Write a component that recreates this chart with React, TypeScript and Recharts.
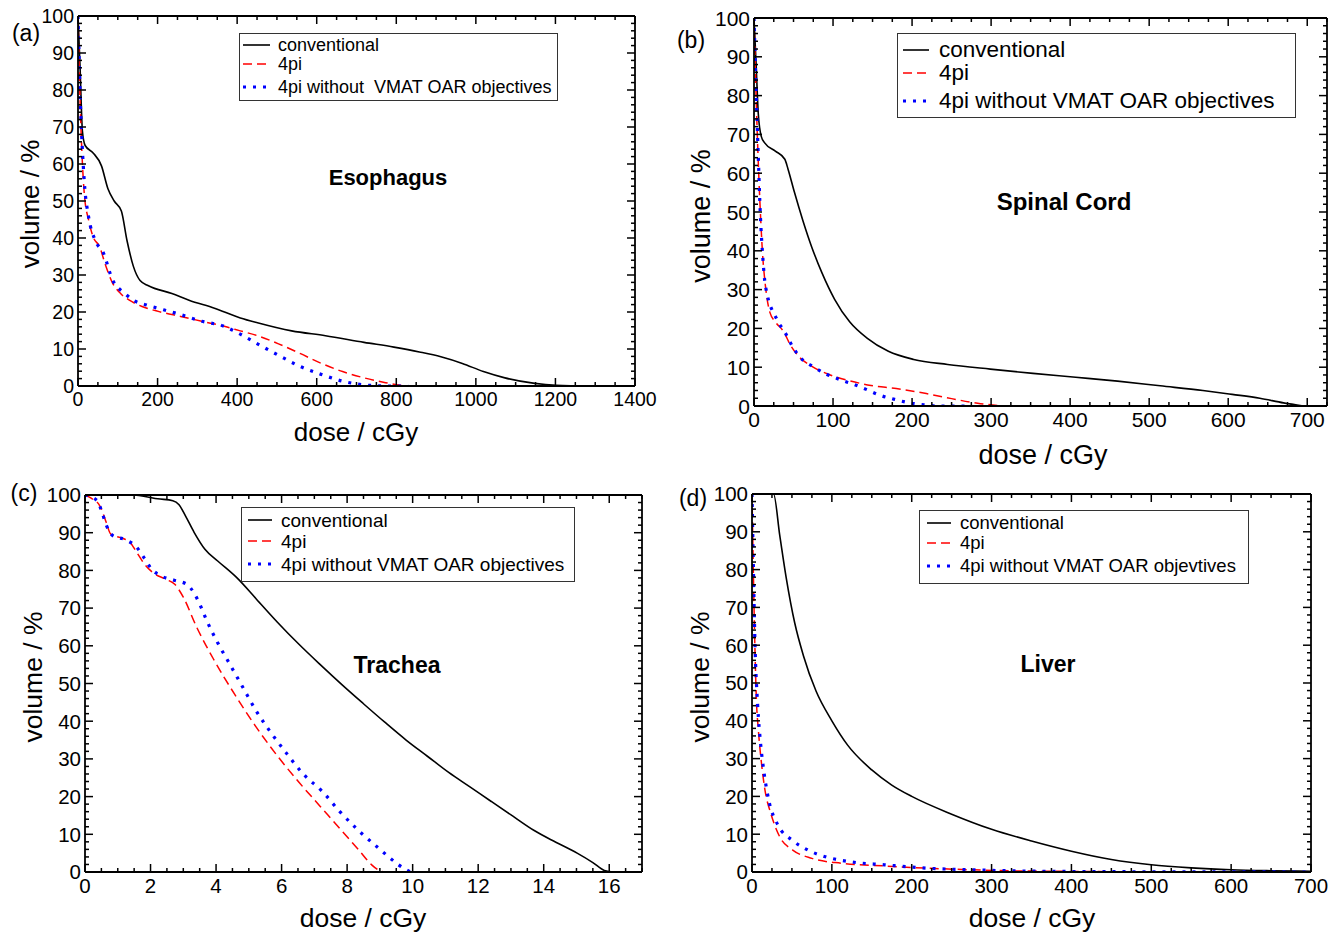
import React from 'react';
import { LineChart, Line, XAxis, YAxis } from 'recharts';

type Pt = [number, number];

// (a) Esophagus  [dose cGy, volume %]
const esoConventional: Pt[] = [
  [0, 100], [5, 86.7], [11, 69], [18, 65], [38, 63], [59, 59.5], [75, 53.4], [91, 50], [109, 47.3],
  [123, 39.4], [139, 32.4], [156, 28.5], [177, 27.1], [236, 25], [279, 23.2], [343, 21], [408, 18.4],
  [451, 17.1], [537, 14.9], [622, 13.6], [719, 11.8], [794, 10.5], [858, 9.2], [912, 7.9], [966, 6.1],
  [1019, 3.9], [1073, 2.2], [1148, 0.7], [1202, 0.2], [1288, 0],
];
const eso4pi: Pt[] = [
  [0, 100], [5, 78], [11, 60.4], [16, 51.7], [27, 44.7], [38, 40.3], [54, 37.7], [70, 32.4], [86, 28],
  [107, 25], [129, 23.2], [161, 21.5], [204, 20.1], [258, 18.8], [311, 17.5], [365, 16.2], [408, 14.9],
  [451, 13.6], [504, 11.4], [558, 8.8], [612, 6.1], [665, 3.9], [719, 2.2], [773, 0.9], [810, 0.2], [830, 0],
];
const eso4piNoOar: Pt[] = [
  [0, 100], [5, 80], [16, 55], [27, 45.5], [43, 39.4], [64, 35.9], [86, 28.9], [118, 25], [139, 23.2],
  [172, 21.9], [215, 20.6], [258, 19.3], [311, 17.5], [365, 16.2], [408, 14], [451, 11.4], [504, 8.3],
  [558, 5.3], [612, 3.1], [665, 1.3], [730, 0.2], [780, 0], [830, 0],
];

// (b) Spinal Cord
const cordConventional: Pt[] = [
  [0, 100], [2.7, 88], [5.4, 75.4], [9.2, 69.5], [13.5, 67.8], [27, 65.7], [39, 63.6], [43, 61.1],
  [51, 55.2], [62, 47.7], [73, 41], [86, 34.3], [102, 27.5], [121, 21.7], [143, 17.5], [170, 14.1],
  [202, 12], [245, 10.7], [299, 9.5], [353, 8.4], [407, 7.4], [460, 6.4], [514, 5.2], [568, 4],
  [605, 3], [640, 2], [670, 0.8], [695, 0],
];
const cord4pi: Pt[] = [
  [0, 100], [2.7, 79.6], [5.4, 62.8], [8, 50.2], [10.8, 39.3], [14.5, 30.9], [20, 24.2], [27, 21.7],
  [37.7, 19.1], [45.8, 15.8], [56.5, 12.8], [72.7, 10.3], [94, 8.2], [121, 6.5], [148, 5.3], [180, 4.5],
  [218, 3.2], [250, 1.9], [283, 0.7], [315, 0],
];
const cord4piNoOar: Pt[] = [
  [0, 100], [2.7, 81], [5.4, 64.5], [8, 49.4], [10.8, 39.3], [14.5, 30.9], [29.6, 22.1], [40, 18.7],
  [48.5, 15.4], [59, 12.4], [75, 10.1], [92, 8.2], [110, 6.7], [127, 5.5], [143, 4.2], [159, 2.8],
  [178, 1.7], [197, 0.8], [215, 0.3], [234, 0], [272, 0],
];

// (c) Trachea
const tracheaConventional: Pt[] = [
  [0, 100], [1.44, 100], [1.83, 99.6], [2.22, 99], [2.68, 98.5], [2.87, 97.4], [3.07, 94.4], [3.33, 90.1],
  [3.66, 85.6], [4.05, 82.5], [4.64, 78], [5.22, 72.5], [5.88, 66.2], [6.53, 60.4], [7.18, 55], [7.84, 49.7],
  [8.49, 44.7], [9.14, 39.8], [9.8, 35], [10.45, 30.7], [11.1, 26.4], [11.76, 22.5], [12.4, 18.7],
  [13.06, 14.8], [13.71, 11], [14.37, 7.9], [15.02, 5], [15.5, 2.5], [15.85, 0.4], [16.1, 0],
];
const trachea4pi: Pt[] = [
  [0, 100], [0.2, 99.1], [0.46, 97], [0.65, 92.7], [0.78, 89.7], [1.18, 88.4], [1.37, 87.5], [1.57, 84.9],
  [1.83, 81.5], [2.09, 79.3], [2.48, 77.6], [2.74, 76.3], [3, 72.9], [3.4, 65.1], [3.92, 56.5],
  [4.57, 47.1], [5.22, 38.5], [5.88, 30.7], [6.53, 23.8], [7.18, 17.4], [7.84, 10.9], [8.36, 5.8],
  [8.75, 1.9], [9.0, 0.3], [9.14, 0],
];
const trachea4piNoOar: Pt[] = [
  [0, 100], [0.37, 98.5], [0.52, 95.4], [0.65, 92], [0.85, 89.2], [1.24, 88.1], [1.57, 86.2], [1.8, 83.4],
  [2.02, 80.5], [2.33, 78.5], [2.72, 77.4], [3.11, 76.3], [3.36, 73.5], [3.53, 70.5], [3.7, 67],
  [4.05, 60.8], [4.44, 54.8], [4.83, 48.8], [5.22, 42.8], [5.68, 36.9], [6.14, 31.6], [6.66, 26],
  [7.25, 21.3], [7.77, 16.1], [8.36, 10.9], [8.95, 6.4], [9.27, 4], [9.57, 1.9], [9.93, 0],
];

// (d) Liver
const liverConventional: Pt[] = [
  [0, 100], [27, 100], [34.8, 89], [42.8, 77.9], [53.6, 65.8], [64.3, 57.3], [80.3, 47.8], [100, 40],
  [120, 33.5], [150, 27], [175, 23], [200, 20], [250, 15.3], [300, 11.3], [350, 8.2], [400, 5.5],
  [450, 3.3], [500, 1.9], [550, 1.1], [600, 0.6], [650, 0.35], [700, 0.2],
];
const liver4pi: Pt[] = [
  [0, 100], [1.6, 80.4], [3.7, 59], [5.4, 46.1], [8, 37.5], [11.8, 28.9], [16, 22], [24, 15.2], [35, 9.2],
  [51, 5.8], [75, 3.6], [112, 2.3], [166, 1.6], [220, 1], [273, 0.6], [327, 0.3], [380, 0.2], [434, 0.1],
  [700, 0],
];
const liver4piNoOar: Pt[] = [
  [0, 100], [1.6, 82], [3.7, 60.7], [7, 44.4], [10.7, 34.1], [15, 26.4], [21.4, 18.6], [32, 12.6],
  [51, 8.3], [70, 5.8], [94, 3.9], [123, 2.7], [166, 1.9], [220, 1], [273, 0.6], [327, 0.3], [434, 0.1],
  [700, 0],
];

const volumeTicks = [0, 10, 20, 30, 40, 50, 60, 70, 80, 90, 100];
const esoDoseTicks = [0, 200, 400, 600, 800, 1000, 1200, 1400];
const cordDoseTicks = [0, 100, 200, 300, 400, 500, 600, 700];
const tracheaDoseTicks = [0, 2, 4, 6, 8, 10, 12, 14, 16];
const liverDoseTicks = [0, 100, 200, 300, 400, 500, 600, 700];

const legendA = ['conventional', '4pi', '4pi without  VMAT OAR objectives'];
const legendB = ['conventional', '4pi', '4pi without VMAT OAR objectives'];
const legendC = ['conventional', '4pi', '4pi without VMAT OAR objectives'];
const legendD = ['conventional', '4pi', '4pi without VMAT OAR objevtives'];

const FONT = '"Liberation Sans", Arial, Helvetica, sans-serif';

const toRows = (pts: Pt[]) => pts.map(([d, v]) => ({ d, v }));

const steps = (max: number, step: number) => {
  const out: number[] = [];
  for (let i = 0; i * step <= max + 1e-9; i++) out.push(+(i * step).toFixed(4));
  return out;
};

type Side = 'bottom' | 'left' | 'top' | 'right';

const tickMark = (side: Side, majors: number[], fontSize: number) => (props: any) => {
  const { x, y, payload } = props;
  const v = payload.value;
  const major = majors.some((m) => Math.abs(m - v) < 1e-6);
  const len = major ? 8 : 4;
  const st = { stroke: '#000', strokeWidth: 1.5 };
  if (side === 'bottom') {
    return (
      <g>
        <line x1={x} y1={y} x2={x} y2={y - len} {...st} />
        {major && (
          <text x={x} y={y + 6} dy='0.71em' textAnchor='middle' fontSize={fontSize} fontFamily={FONT} fill='#000'>
            {v}
          </text>
        )}
      </g>
    );
  }
  if (side === 'left') {
    return (
      <g>
        <line x1={x} y1={y} x2={x + len} y2={y} {...st} />
        {major && (
          <text x={x - 4} y={y} dy='0.36em' textAnchor='end' fontSize={fontSize} fontFamily={FONT} fill='#000'>
            {v}
          </text>
        )}
      </g>
    );
  }
  if (side === 'top') return <line x1={x} y1={y} x2={x} y2={y + len} {...st} />;
  return <line x1={x} y1={y} x2={x - len} y2={y} {...st} />;
};

interface PanelProps {
  L: number; T: number; R: number; B: number;
  xMax: number; xMajor: number[]; xMinor: number;
  tickFont: number;
  conv: Pt[]; pi: Pt[]; noOar: Pt[];
}

const Panel: React.FC<PanelProps> = ({ L, T, R, B, xMax, xMajor, xMinor, tickFont, conv, pi, noOar }) => {
  const xt = steps(xMax, xMinor);
  const yt = steps(100, 2);
  const axisLine = { stroke: '#000', strokeWidth: 1.8 };
  return (
    <div style={{ position: 'absolute', left: L - 60, top: T - 25 }}>
      <LineChart width={R - L + 90} height={B - T + 85} margin={{ top: 24, right: 29, left: 5, bottom: 10 }}>
        <XAxis xAxisId='b' dataKey='d' type='number' domain={[0, xMax]} ticks={xt} interval={0} allowDataOverflow
          orientation='bottom' height={60} tickSize={0} tickMargin={0} tickLine={false} axisLine={axisLine}
          tick={tickMark('bottom', xMajor, tickFont)} />
        <XAxis xAxisId='t' dataKey='d' type='number' domain={[0, xMax]} ticks={xt} interval={0} allowDataOverflow
          orientation='top' height={1} tickSize={0} tickMargin={0} tickLine={false} axisLine={axisLine}
          tick={tickMark('top', xMajor, tickFont)} />
        <YAxis yAxisId='l' type='number' domain={[0, 100]} ticks={yt} interval={0} allowDataOverflow
          orientation='left' width={55} tickSize={0} tickMargin={0} tickLine={false} axisLine={axisLine}
          tick={tickMark('left', volumeTicks, tickFont)} />
        <YAxis yAxisId='r' type='number' domain={[0, 100]} ticks={yt} interval={0} allowDataOverflow
          orientation='right' width={1} tickSize={0} tickMargin={0} tickLine={false} axisLine={axisLine}
          tick={tickMark('right', volumeTicks, tickFont)} />
        <Line xAxisId='b' yAxisId='l' data={toRows(conv)} dataKey='v' type='monotone' stroke='#000'
          strokeWidth={1.6} dot={false} isAnimationActive={false} />
        <Line xAxisId='b' yAxisId='l' data={toRows(pi)} dataKey='v' type='monotone' stroke='#ff0000'
          strokeWidth={1.5} strokeDasharray='9 5' dot={false} isAnimationActive={false} />
        <Line xAxisId='b' yAxisId='l' data={toRows(noOar)} dataKey='v' type='monotone' stroke='#0000ff'
          strokeWidth={3.2} strokeDasharray='3 7' dot={false} isAnimationActive={false} />
      </LineChart>
    </div>
  );
};

interface LegendProps {
  left: number; top: number; width: number; height: number;
  fontSize: number; rows: number[]; lineX: [number, number]; textX: number; labels: string[];
}

const BoxLegend: React.FC<LegendProps> = ({ left, top, width, height, fontSize, rows, lineX, textX, labels }) => {
  const styles = [
    { stroke: '#000', strokeWidth: 1.6 },
    { stroke: '#ff0000', strokeWidth: 1.5, strokeDasharray: '9 5' },
    { stroke: '#0000ff', strokeWidth: 3.2, strokeDasharray: '3 7' },
  ];
  return (
    <div style={{ position: 'absolute', left, top, width, height, border: '1px solid #333', boxSizing: 'border-box', background: '#fff' }}>
      <svg width={width} height={height} style={{ position: 'absolute', left: -1, top: -1 }}>
        {rows.map((ry, i) => (
          <line key={i} x1={lineX[0]} x2={lineX[1]} y1={ry} y2={ry} {...styles[i]} />
        ))}
      </svg>
      {labels.map((t, i) => (
        <div key={t} style={{ position: 'absolute', left: textX - 1, top: rows[i] - 1, transform: 'translateY(-50%)',
          fontFamily: FONT, fontSize, lineHeight: 1, whiteSpace: 'pre', color: '#000' }}>
          {t}
        </div>
      ))}
    </div>
  );
};

const Txt: React.FC<{ x: number; y: number; size: number; bold?: boolean; rotate?: boolean; children: React.ReactNode }> = ({ x, y, size, bold, rotate, children }) => (
  <div style={{ position: 'absolute', left: x, top: y, transform: `translate(-50%, -50%)${rotate ? ' rotate(-90deg)' : ''}`,
    fontFamily: FONT, fontSize: size, fontWeight: bold ? 'bold' : 'normal', whiteSpace: 'nowrap', lineHeight: 1, color: '#000' }}>
    {children}
  </div>
);

export default function App() {
  return (
    <div style={{ position: 'absolute', left: 0, top: 0, width: 1340, height: 934, background: '#fff', overflow: 'hidden' }}>
      <Panel L={78} T={16} R={635} B={396} xMax={1400} xMajor={esoDoseTicks} xMinor={50} tickFont={19.5}
        conv={esoConventional} pi={eso4pi} noOar={eso4piNoOar} />
      <Panel L={754} T={18} R={1327} B={416} xMax={725} xMajor={cordDoseTicks} xMinor={25} tickFont={21}
        conv={cordConventional} pi={cord4pi} noOar={cord4piNoOar} />
      <Panel L={85} T={495} R={642} B={882} xMax={17} xMajor={tracheaDoseTicks} xMinor={0.5} tickFont={20.5}
        conv={tracheaConventional} pi={trachea4pi} noOar={trachea4piNoOar} />
      <Panel L={752} T={494} R={1311} B={882} xMax={700} xMajor={liverDoseTicks} xMinor={25} tickFont={20.5}
        conv={liverConventional} pi={liver4pi} noOar={liver4piNoOar} />

      <BoxLegend left={239} top={33} width={319} height={68} fontSize={18} rows={[12, 31, 54]} lineX={[4, 31]} textX={39} labels={legendA} />
      <BoxLegend left={897} top={33} width={399} height={85} fontSize={22.5} rows={[17, 40, 68]} lineX={[6, 32]} textX={42} labels={legendB} />
      <BoxLegend left={241} top={507} width={334} height={75} fontSize={19} rows={[13, 34, 57]} lineX={[7, 31]} textX={40} labels={legendC} />
      <BoxLegend left={919} top={510} width={330} height={74} fontSize={18.5} rows={[13, 33, 56]} lineX={[8, 32]} textX={41} labels={legendD} />

      <Txt x={388} y={178} size={22} bold>Esophagus</Txt>
      <Txt x={1064} y={202} size={24} bold>Spinal Cord</Txt>
      <Txt x={397} y={665} size={23} bold>Trachea</Txt>
      <Txt x={1048} y={664} size={23} bold>Liver</Txt>

      <Txt x={356} y={432} size={26}>dose / cGy</Txt>
      <Txt x={1043} y={455} size={27}>dose / cGy</Txt>
      <Txt x={363} y={918} size={26.5}>dose / cGy</Txt>
      <Txt x={1032} y={918} size={26.5}>dose / cGy</Txt>

      <Txt x={30} y={204} size={26} rotate>volume / %</Txt>
      <Txt x={701} y={216} size={27} rotate>volume / %</Txt>
      <Txt x={33} y={677} size={26.5} rotate>volume / %</Txt>
      <Txt x={700} y={677} size={26.5} rotate>volume / %</Txt>

      <Txt x={26} y={33} size={23}>(a)</Txt>
      <Txt x={691} y={40} size={23}>(b)</Txt>
      <Txt x={24} y={493} size={23}>(c)</Txt>
      <Txt x={693} y={498} size={23}>(d)</Txt>
    </div>
  );
}
